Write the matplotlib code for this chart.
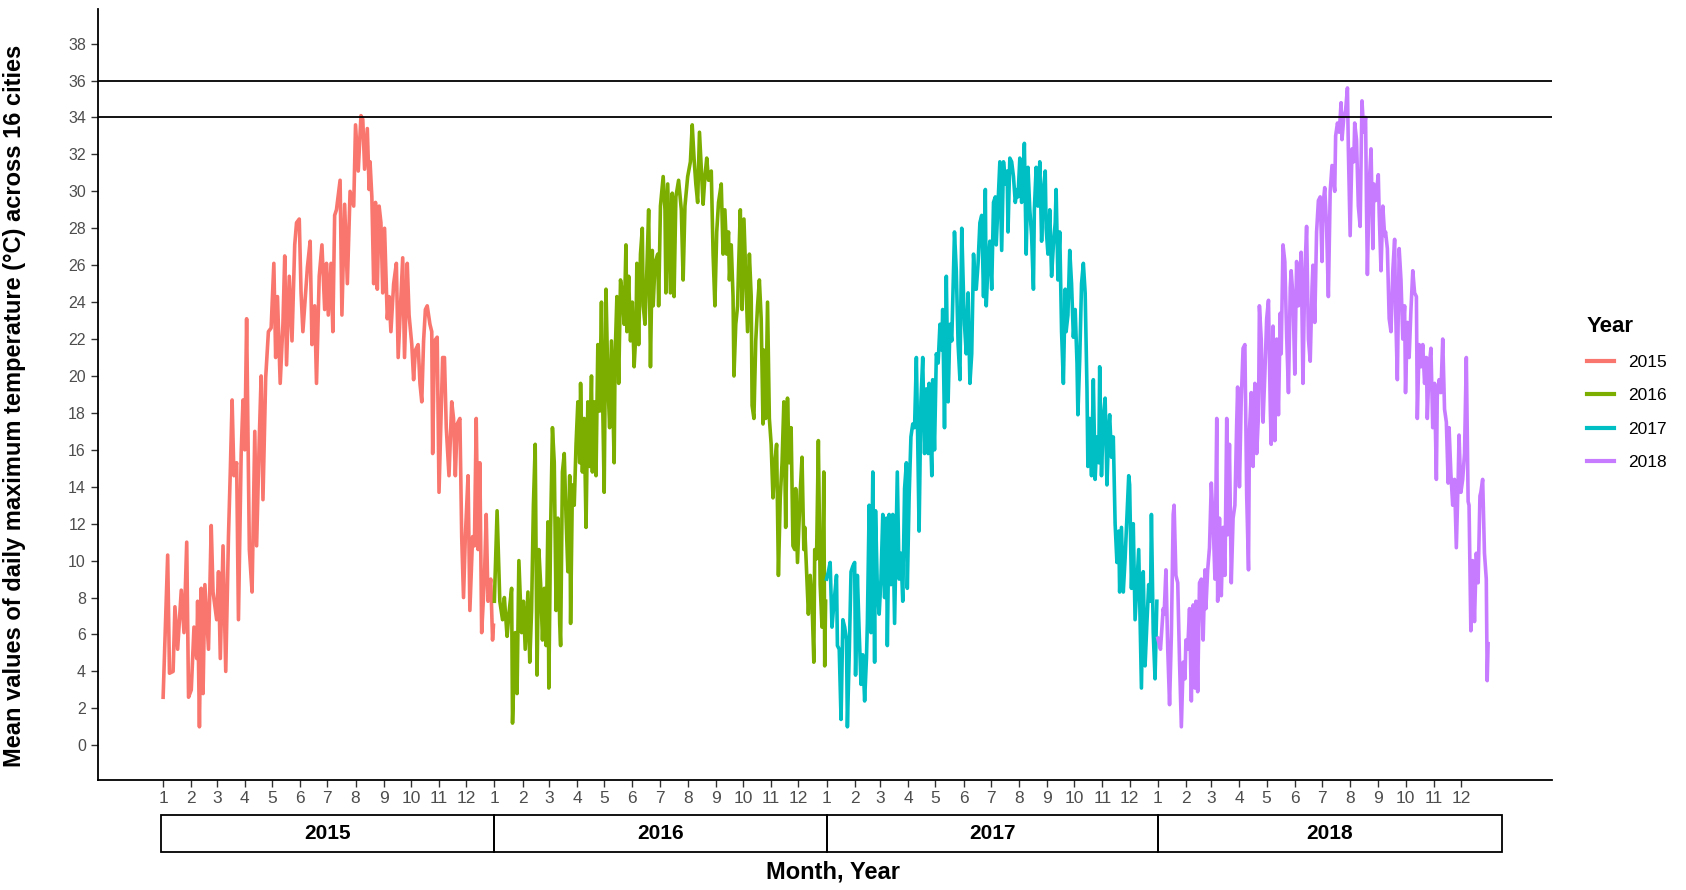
import matplotlib
matplotlib.use("Agg")
import matplotlib.pyplot as plt
import matplotlib.transforms as mtransforms
from matplotlib import font_manager
from matplotlib.patches import Rectangle
import numpy as np
import pandas as pd

# daily max temperature, mean over 16 cities (day of year, degC)
years = [2015, 2016, 2017, 2018]
colors = ["#F8766D", "#7CAE00", "#00BFC4", "#C77CFF"]

d2015 = [0,5,7,11,13,16,20,23,26,28, 31,34,37,38,40,42,44,46,50,53, 55,59,61,63,66,69,72,74,76,78,
         81,83,86,88,90,92,95,98,101,103, 106,108,110,113,116,119,122,124,126,129,
         132,134,136,139,142,145,147,150,152,154, 156,159,162,164,167,169,172,175,178,180,
         182,185,187,189,191,195,197,200,203,206, 210,212,215,218,220,222,225,227,228,230,
         232,234,236,238,240,242,244,247,249,251, 254,257,259,262,264,266,269,271,274,276,
         278,281,283,285,287,289,291,294,296,297, 299,302,304,306,308,310,312,315,318,320,
         322,324,327,329,331,333,336,338,341,343, 345,347,349,351,354,356,358,361,363,364]
t2015 = [2.6,10.3,3.9,4.0,7.5,5.2,8.4,6.1,11.0,2.6, 3.0,6.4,4.7,7.8,1.0,8.5,2.8,8.7,5.2,11.9,
         8.3,6.8,9.4,4.7,10.8,4.0,11.3,14.8,18.7,14.6, 15.3,6.8,15.8,18.7,16.0,23.1,10.6,8.3,17.0,10.8,
         16.7,20.0,13.3,19.9,22.4,22.6,26.1,21.0,24.3,19.6, 22.8,26.5,20.6,25.4,21.9,27.1,28.3,28.5,24.5,22.4,
         23.8,25.9,27.3,21.7,23.8,19.6,25.4,27.1,23.6,26.1, 23.3,26.1,22.4,28.7,29.0,30.6,23.3,29.3,25.0,30.0,
         29.2,33.6,31.1,34.1,33.9,31.2,33.4,30.1,31.6,29.7, 25.0,29.4,24.7,29.2,28.3,24.5,28.0,23.1,24.3,22.4,
         25.0,26.1,21.0,24.3,26.4,21.0,26.1,23.3,21.7,19.8, 21.4,21.7,19.6,18.6,21.9,23.6,23.8,22.8,22.4,15.8,
         21.9,22.1,13.7,17.4,21.0,21.0,17.2,14.6,18.6,17.7, 14.6,17.4,17.7,11.3,8.0,11.3,14.6,7.3,11.3,10.8,
         17.7,10.6,15.3,6.1,9.0,12.5,7.8,9.0,5.7,6.5]

d2016 = [0,3,6,9,11,14,16,19,20,23, 25,27,30,32,34,37,39,41,43,45, 47,49,51,53,55,57,59,60,62,64,
         66,68,70,72,73,75,77,79,81,83, 84,86,88,90,92,94,95,97,99,101, 103,105,107,108,110,112,114,116,118,119,
         121,123,125,127,129,132,133,135,137,139, 141,143,145,146,148,150,152,154,156,157,
         159,161,163,164,166,168,170,172,174,175, 177,180,181,183,186,188,189,191,194,196,
         198,200,203,206,208,210,213,216,218,220, 222,224,226,228,230,232,234,236,239,241,
         243,245,247,250,252,254,256,258,259,261, 263,264,266,268,269,271,273,275,277,279,
         281,283,284,286,288,290,292,294,296,297, 299,301,303,305,307,309,311,313,315,317,
         319,321,323,325,327,329,331,332,334,337, 339,341,342,344,346,348,350,352,353,355,
         357,359,361,363,364,365]
t2016 = [7.8,12.7,7.8,6.8,8.0,5.9,7.1,8.5,1.2,6.1, 2.8,10.0,6.1,7.8,5.2,8.3,4.5,7.3,13.0,16.3,
         3.8,10.6,8.7,5.7,8.5,5.4,12.1,3.1,11.8,17.2, 15.3,7.3,12.3,6.6,5.4,14.8,15.8,12.3,9.4,14.6,
         6.6,14.1,13.0,16.3,18.6,15.3,19.6,14.8,17.7,11.8, 18.6,15.1,20.0,14.8,18.6,14.6,21.7,18.1,24.0,19.6,
         13.7,24.7,19.8,17.2,21.9,15.3,21.0,24.3,19.6,25.2, 24.5,22.8,27.1,22.4,25.4,21.9,24.0,20.5,22.4,26.1,
         21.7,26.6,28.0,23.8,22.8,25.7,29.0,20.5,26.8,23.8, 26.1,26.6,23.8,29.2,30.8,29.0,24.5,30.4,24.5,29.9,
         24.3,29.7,30.6,29.0,25.2,29.2,30.8,31.6,33.6,31.8, 30.4,29.4,33.2,31.3,29.3,30.8,31.8,30.6,31.1,26.6,
         23.8,27.8,29.4,30.4,26.6,29.0,26.6,27.8,25.2,27.1, 24.3,20.0,22.8,23.8,25.7,29.0,23.6,28.5,25.4,22.4,
         26.6,24.3,18.4,17.7,21.9,23.8,25.2,23.1,17.4,21.4, 17.7,24.0,17.7,16.3,13.4,15.3,16.3,9.2,13.4,15.3,
         18.6,11.8,18.8,15.3,17.2,10.8,10.6,13.9,9.9,13.7, 15.6,10.6,11.8,9.4,7.1,9.2,7.8,4.5,10.6,10.1,
         16.5,8.7,6.4,14.8,4.3,7.8]

d2017 = [0,2,4,6,8,11,12,14,16,18, 20,22,23,25,27,29,31,32,34,36, 38,40,42,44,45,47,49,51,53,54,
         56,58,60,62,64,66,67,69,71,73, 75,77,78,80,82,84,86,88,89,91, 93,95,97,99,100,102,104,106,108,110,
         112,113,116,117,119,121,123,125,127,128, 130,132,134,136,138,139,141,143,145,147,
         149,151,152,154,156,158,160,162,164,165, 167,169,171,173,175,176,178,180,182,184,
         186,187,189,191,193,195,197,199,200,202, 204,206,208,210,211,213,215,217,218,220,
         222,224,226,228,229,231,233,235,237,239, 241,242,244,246,248,250,252,253,255,257,
         259,261,263,264,266,268,270,272,274,276, 277,279,281,283,285,287,288,290,292,294,
         296,298,300,301,303,305,307,309,311,312, 314,316,318,320,322,323,325,327,329,331,
         333,334,336,338,340,342,344,345,347,349, 351,353,355,357,358,360,362,364]
t2017 = [9.0,9.4,9.9,6.4,7.6,9.2,5.4,5.2,1.4,6.8, 6.4,5.7,1.0,4.9,9.4,9.7,9.9,3.8,9.2,6.1,
         3.3,4.9,2.4,4.7,6.6,13.0,6.1,14.8,4.5,12.7, 8.5,7.1,9.0,12.5,8.0,12.3,5.4,12.5,8.7,12.5,
         6.6,12.1,14.8,9.0,10.4,7.8,13.9,15.3,8.5,13.4, 16.7,17.4,17.2,21.0,18.1,11.6,18.6,21.0,15.8,19.3,
         15.8,19.6,14.6,19.8,16.0,21.2,20.7,22.8,21.4,23.6, 17.2,25.4,18.6,22.8,21.9,23.8,27.8,25.7,21.7,19.8,
         28.0,24.3,22.8,21.2,24.5,19.6,21.2,26.6,24.7,24.7, 26.1,28.3,28.7,24.3,30.1,23.8,26.1,27.3,24.7,29.4,
         29.7,27.1,29.4,31.6,26.8,31.6,30.4,31.1,27.8,31.8, 31.6,30.8,29.4,30.1,29.7,31.8,29.4,31.3,32.6,26.6,
         31.3,29.0,27.6,24.7,29.0,31.3,29.2,31.6,27.3,30.1, 31.1,28.0,26.6,29.0,25.4,27.1,28.3,30.1,25.2,27.8,
         22.4,19.6,24.7,22.4,23.3,26.8,25.0,22.1,23.6,20.7, 17.9,20.9,25.0,26.1,24.5,19.3,15.1,17.7,14.6,19.8,
         14.4,16.7,15.3,20.5,14.6,17.7,18.8,14.1,17.2,17.9, 15.6,16.7,12.0,9.9,11.6,8.3,11.8,8.3,10.1,12.3,
         14.6,14.1,8.5,12.0,6.8,8.7,10.6,8.0,3.1,9.4, 4.3,6.6,8.7,7.8,12.5,6.1,3.6,7.8]

d2018 = [0,3,6,7,9,11,13,15,17,18, 20,22,24,26,28,30,31,33,35,37, 39,41,42,44,46,48,50,52,53,55,
         57,59,61,63,65,66,68,70,72,74, 76,77,79,81,83,85,87,88,90,92, 94,96,98,100,101,103,105,107,109,111,
         112,114,116,118,120,122,124,125,127,129, 131,133,135,136,138,140,142,144,146,147,
         149,151,153,155,157,158,160,162,164,166, 168,170,171,173,175,177,179,181,182,184,
         186,188,190,192,195,196,198,200,202,203, 205,207,209,210,212,214,216,217,219,221,
         223,225,227,229,230,231,233,235,237,238, 240,243,244,246,248,250,251,253,255,257,
         259,261,262,264,266,268,270,272,273,275, 277,279,281,283,285,286,288,290,292,294,
         296,297,299,301,303,305,307,308,310,312, 314,316,318,320,321,323,325,327,329,331,
         332,334,336,338,340,342,343,345,347,349, 351,353,355,356,358,360,362,363,364]
t2018 = [5.8,5.2,7.4,7.1,9.5,5.2,2.2,6.0,12.5,13.0, 9.2,8.8,4.5,1.0,4.5,3.6,5.7,5.2,7.4,2.4,
         7.6,3.1,7.8,2.9,8.8,9.0,5.7,9.5,7.4,9.5, 10.7,14.2,12.1,9.0,17.7,7.8,12.3,8.1,11.8,9.2,
         17.7,11.4,16.3,8.8,12.3,13.0,17.5,19.4,14.0,18.7, 21.5,21.7,13.5,9.5,17.0,19.1,15.1,19.6,15.8,17.9,
         23.8,22.0,17.5,20.1,23.1,24.1,18.2,16.3,22.7,16.5, 22.0,17.9,23.4,21.2,27.1,26.2,22.2,19.1,24.8,25.7,
         24.3,20.1,26.2,23.8,25.5,26.7,19.6,25.5,28.1,22.0, 20.8,24.8,26.0,22.9,27.8,29.5,29.7,26.2,29.2,30.2,
         28.1,24.3,30.0,31.4,30.0,33.0,33.7,33.2,34.8,32.8, 34.0,34.4,35.6,32.3,27.6,32.3,31.6,33.7,32.8,29.2,
         28.1,34.9,33.2,34.0,29.2,25.5,30.4,32.3,26.9,30.4, 29.5,30.9,28.8,25.7,29.2,27.6,27.8,26.9,23.1,22.4,
         25.7,27.4,23.8,19.8,26.9,25.2,22.0,23.8,19.1,22.9, 21.0,23.6,25.7,24.5,24.3,17.7,21.7,20.5,21.7,19.6,
         21.0,17.7,20.5,21.5,17.2,19.6,14.4,18.9,19.8,19.1, 22.0,18.2,17.5,14.2,17.2,14.7,13.0,14.4,10.7,14.4,
         16.8,13.7,14.4,15.8,21.0,13.2,13.0,6.2,10.0,6.7, 10.4,8.8,13.5,13.7,14.4,10.4,9.0,3.5,5.5]

days = [d2015, d2016, d2017, d2018]
temps = [t2015, t2016, t2017, t2018]
ref_lines = [34, 36]

base = pd.Timestamp("2015-01-01")
offsets = [(pd.Timestamp(f"{y}-01-01") - base).days for y in years]
month_starts = [(pd.Timestamp(y, m, 1) - base).days for y in years for m in range(1, 13)]
month_labels = [str(m) for y in years for m in range(1, 13)]
box_edges = [-2, 365, 731, 1096, 1475]

names = {f.name for f in font_manager.fontManager.ttflist}
narrow = "Liberation Sans Narrow" if "Liberation Sans Narrow" in names else "Liberation Sans"
plt.rcParams["font.family"] = ["Liberation Sans", "DejaVu Sans"]

fig = plt.figure(figsize=(16.86, 8.9), dpi=100)
ax = fig.add_axes([0.058, 0.1232, 0.8623, 0.8672])

for yr, d, t, c, off in zip(years, days, temps, colors, offsets):
    ax.plot(np.array(d) + off, t, color=c, lw=2.6, label=str(yr), solid_joinstyle="round")

for v in ref_lines:
    ax.axhline(v, color="black", lw=1.3, zorder=3)

ax.set_xlim(-72, 1530)
ax.set_ylim(-1.9, 39.9)
ax.set_yticks(np.arange(0, 39, 2))
ax.set_xticks(month_starts)
ax.set_xticklabels(month_labels, fontsize=12.5, family=[narrow, "DejaVu Sans"], color="#4D4D4D")
ax.tick_params(axis="y", labelsize=11.5, labelcolor="#4D4D4D", color="#333333", length=5, width=1)
ax.tick_params(axis="x", color="#333333", length=5, width=1, pad=3)
for s in ["top", "right"]:
    ax.spines[s].set_visible(False)
for s in ["left", "bottom"]:
    ax.spines[s].set_linewidth(1.3)

ax.set_ylabel("Mean values of daily maximum temperature (°C) across 16 cities",
              fontsize=17, fontweight="bold", family=[narrow, "DejaVu Sans"])
ax.yaxis.set_label_coords(-0.0496, 0.485)
ax.set_xlabel("Month, Year", fontsize=17, fontweight="bold", family=[narrow, "DejaVu Sans"])
ax.xaxis.set_label_coords(0.506, -0.104)

# year strip under the month ticks
trans = mtransforms.blended_transform_factory(ax.transData, ax.transAxes)
for yr, x0, x1 in zip(years, box_edges[:-1], box_edges[1:]):
    ax.add_patch(Rectangle((x0, -0.0933), x1 - x0, 0.0487, transform=trans,
                           fill=False, lw=1.3, ec="black", clip_on=False))
    ax.text((x0 + x1) / 2, -0.069, str(yr), transform=trans, ha="center", va="center",
            fontsize=15, fontweight="bold", family=[narrow, "DejaVu Sans"])

leg = ax.legend(title="Year", loc="center left", bbox_to_anchor=(1.024, 0.502), frameon=False,
                fontsize=12.5, handlelength=1.6, labelspacing=1.05, borderpad=0, borderaxespad=0,
                title_fontproperties={"weight": "bold", "size": 16})
leg._legend_box.align = "left"
for line in leg.get_lines():
    line.set_linewidth(3)

fig.savefig("out.png", dpi=100)
